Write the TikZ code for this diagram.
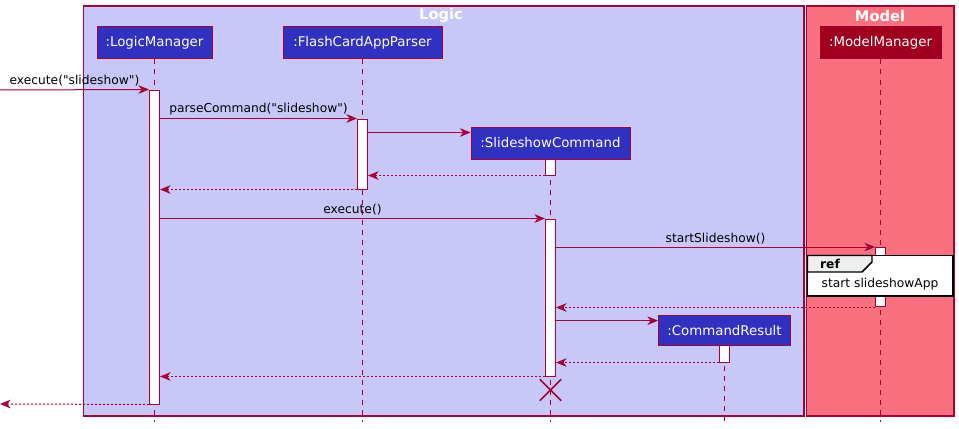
\documentclass[tikz,border=0pt]{standalone}
\usepackage{fontspec}
\setmainfont{DejaVu Sans}
\usetikzlibrary{arrows.meta,positioning,shapes.misc}
\definecolor{umlred}{HTML}{A80036}
\definecolor{logicbg}{HTML}{C8C8F8}
\definecolor{modelbg}{HTML}{F9717F}
\definecolor{partblue}{HTML}{3131C1}
\definecolor{partred}{HTML}{A0001E}
\definecolor{refgray}{HTML}{EEEEEE}

\begin{document}
\begin{tikzpicture}[x=0.75pt,y=-0.75pt,
  every node/.style={font=\fontsize{9.2}{11}\selectfont},
  part/.style={draw=umlred,line width=0.75pt,fill=partblue,text=white,inner sep=0pt,minimum height=24pt,font=\fontsize{10}{12}\selectfont},
  act/.style={draw=umlred,line width=0.75pt,fill=white,inner sep=0pt,minimum width=7.5pt},
  life/.style={umlred,line width=0.75pt,dash pattern=on 3.75pt off 3.75pt},
  msg/.style={umlred,line width=0.75pt,-{Stealth[length=8pt,width=6.5pt,inset=2.5pt]}},
  ret/.style={msg,dash pattern=on 1.5pt off 1.5pt},
  lbl/.style={midway,above,inner sep=2pt,text=black},
  title/.style={font=\fontsize{11}{13}\selectfont\bfseries,text=white}]
\useasboundingbox (0,0) rectangle (959,428);
% Boxes
\draw[umlred,line width=1pt,fill=logicbg] (83.5,6) rectangle (804,416);
\draw[umlred,line width=1pt,fill=modelbg] (806.5,6) rectangle (954,416);
\node[title] (tlogic) at (441,16) {Logic};
\node[title] (tmodel) at (880,16) {Model};
% Participants
\node[part,minimum width=86.25pt] (lm) at (154.5,43) {:LogicManager};
\node[part,minimum width=119.25pt] (fp) at (362.5,43) {:FlashCardAppParser};
\node[part,minimum width=119.25pt] (sc) at (550.5,143) {:SlideshowCommand};
\node[part,minimum width=90.75pt,fill=partred] (mm) at (880.5,43) {:ModelManager};
\node[part,minimum width=99pt,minimum height=23pt] (cr) at (724.5,330.5) {:CommandResult};
\coordinate (bot) at (0,422);
\foreach \n in {lm,fp,sc,mm,cr}
  \draw[life] (\n.south) -- (\n.south |- bot);
% Activations
\node[act,minimum height=235.5pt] (aLM) at (154.5,247) {};
\node[act,minimum height=52.5pt] (aFP) at (362.5,154) {};
\node[act,minimum height=12pt] (aSC1) at (550.5,167) {};
\node[act,minimum height=117.75pt] (aSC2) at (550.5,297.5) {};
\node[act,minimum height=44.6pt] (aMM) at (880.5,277.25) {};
\node[act,minimum height=12.4pt] (aCR) at (724.5,353.75) {};
% Messages
\coordinate (in) at (0,90);
\coordinate (out) at (0,404);
\coordinate (scIn) at ([yshift=-4.5pt]sc.north west);
\coordinate (crIn) at ([yshift=-4.5pt]cr.north west);
\draw[msg] (in) -- (aLM.north west) node[lbl] (l1) {execute(\textquotedbl slideshow\textquotedbl)};
\draw[msg] (aLM.east |- aFP.north) -- (aFP.north west) node[lbl] (l2) {parseCommand(\textquotedbl slideshow\textquotedbl)};
\draw[msg] (aFP.east |- scIn) -- (scIn);
\draw[ret] (aSC1.south west) -- (aFP.east |- aSC1.south west);
\draw[ret] (aFP.south west) -- (aLM.east |- aFP.south west);
\draw[msg] (aLM.east |- aSC2.north) -- (aSC2.north west) node[lbl] (l3) {execute()};
\draw[msg] (aSC2.east |- aMM.north) -- (aMM.north west) node[lbl] (l4) {startSlideshow()};
\draw[ret] (aMM.south west) -- (aSC2.east |- aMM.south west);
\draw[msg] (aSC2.east |- crIn) -- (crIn);
\draw[ret] (aCR.south west) -- (aSC2.east |- aCR.south west);
\draw[ret] (aSC2.south west) -- (aLM.east |- aSC2.south west);
\draw[ret] (aLM.south west) -- (out);
\node[cross out,draw=umlred,line width=1.1pt,minimum size=15pt,inner sep=0pt] (kill) at (550.5,390) {};
% Ref frame
\draw[line width=1.1pt,fill=white] (807.5,255.5) rectangle (953,296);
\draw[line width=1.1pt,fill=refgray] (807.5,255.5) -- (872,255.5) -- (872,262) -- (862,272) -- (807.5,272) -- cycle;
\node[font=\fontsize{9.2}{11}\selectfont\bfseries] (refl) at (830,264) {ref};
\node (refbody) at (880,284) {start slideshowApp};
\end{tikzpicture}
\end{document}
